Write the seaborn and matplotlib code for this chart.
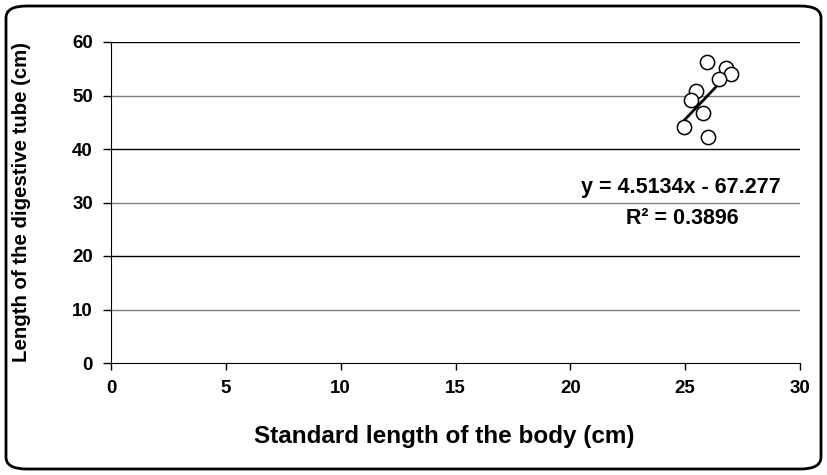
import numpy as np
import pandas as pd
import matplotlib
matplotlib.use("Agg")
import matplotlib.pyplot as plt
import seaborn as sns
from matplotlib.patches import FancyBboxPatch

# data
body_len = [25.96, 26.77, 26.99, 26.48, 25.47, 25.25, 25.76, 24.95, 26.00]
tube_len = [56.2, 55.1, 54.0, 53.1, 50.9, 49.2, 46.7, 44.1, 42.2]
slope = 4.5134
intercept = -67.277
r2 = 0.3896
x_ticks = [0, 5, 10, 15, 20, 25, 30]
y_ticks = [0, 10, 20, 30, 40, 50, 60]

sns.set_style("white")
plt.rcParams['font.family'] = ['Liberation Sans', 'DejaVu Sans']
plt.rcParams.update({"text.color": "black", "axes.labelcolor": "black",
                     "xtick.color": "black", "ytick.color": "black"})

df = pd.DataFrame({"x": body_len, "y": tube_len})
x_fit = np.array([min(body_len), max(body_len)])
fit = pd.DataFrame({"x": x_fit, "y": slope * x_fit + intercept})

fig = plt.figure(figsize=(8.27, 4.75), dpi=100)
ax = fig.add_axes([111 / 827, 1 - 363 / 475, 689 / 827, 321 / 475])

# gridlines
for i, v in enumerate(y_ticks[1:]):
    ax.axhline(v, color="black" if i % 2 == 1 else "#7f7f7f", lw=1, zorder=1)

sns.lineplot(data=fit, x="x", y="y", ax=ax, color="black", lw=2, zorder=3)
sns.scatterplot(data=df, x="x", y="y", ax=ax, s=105, facecolor="white",
                edgecolor="black", linewidth=1.1, zorder=4)

ax.set_xlim(0, 30)
ax.set_ylim(0, 60)
ax.set_xticks(x_ticks)
ax.set_yticks(y_ticks)
ax.tick_params(axis="x", direction="out", length=5, width=1, pad=7,
               labelsize=13.5, bottom=True)
ax.tick_params(axis="y", direction="out", length=6, width=1, pad=7,
               labelsize=13.5, left=True)
for lab in ax.get_xticklabels() + ax.get_yticklabels():
    lab.set_fontweight("bold")

for s in ["top", "right"]:
    ax.spines[s].set_visible(False)
ax.spines["left"].set_color("black")
ax.spines["bottom"].set_color("black")

ax.set_xlabel("")
ax.set_ylabel("")
fig.text(444 / 827, 1 - 437 / 475, "Standard length of the body (cm)",
         ha="center", va="center", fontsize=17.5, fontweight="bold")
fig.text(22 / 827, 1 - 202 / 475, "Length of the digestive tube (cm)",
         ha="center", va="center", rotation=90, fontsize=14.7,
         fontweight="bold")

fig.text(681 / 827, 1 - 188 / 475, f"y = {slope}x - {abs(intercept)}",
         ha="center", va="center", fontsize=15.5, fontweight="bold")
fig.text(682 / 827, 1 - 219 / 475, f"R\u00b2 = {r2}",
         ha="center", va="center", fontsize=15.5, fontweight="bold")

# rounded outer frame
frame = FancyBboxPatch((6 / 827, 6 / 475), 815 / 827, 463 / 475,
                       boxstyle="round,pad=0,rounding_size=0.025",
                       transform=fig.transFigure, fill=False,
                       edgecolor="black", lw=2)
fig.patches.append(frame)

fig.savefig("out.png", dpi=100)
